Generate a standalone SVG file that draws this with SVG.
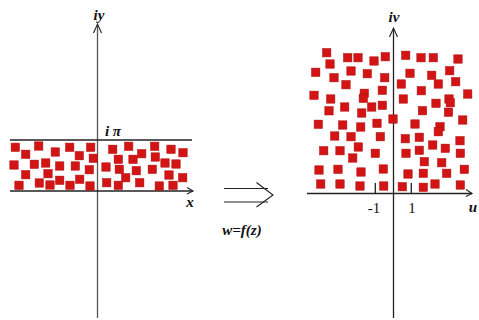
<svg xmlns="http://www.w3.org/2000/svg" xmlns:xlink="http://www.w3.org/1999/xlink" width="479" height="320" viewBox="0 0 479 320">
<style>
.bg{fill:#ffffff}
.ax{stroke:#222;stroke-width:1.3;fill:none}
.axg{stroke:#555;stroke-width:1.3;fill:none}
.ah{stroke:#222;stroke-width:1.1;fill:none}
.lbl{font-family:"Liberation Serif","DejaVu Serif",serif;font-style:italic;font-weight:bold;font-size:15px;fill:#111}
.num{font-family:"Liberation Serif","DejaVu Serif",serif;font-size:15px;fill:#111}
.sq{fill:#d21414;stroke:#b00c0c;stroke-width:0.5}
</style>
<defs>
<rect id="s" class="sq" x="-4.2" y="-4.2" width="8.4" height="8.4"/>
</defs>
<rect class="bg" x="0" y="0" width="479" height="320"/>

<g id="z-plane">
  <line class="axg" x1="97.5" y1="25" x2="97.5" y2="318"/>
  <polyline class="ah" points="93.5,33 97.5,24 101.5,33"/>
  <line class="ax" x1="10" y1="140" x2="192" y2="140"/>
  <line class="ax" x1="10" y1="191" x2="193" y2="191"/>
  <polyline class="ah" points="187,187.5 193,191 187,194"/>
  <text class="lbl" x="99" y="20" text-anchor="middle">iy</text>
  <text class="lbl" x="113" y="136" text-anchor="middle">i π</text>
  <text class="lbl" x="190" y="207" text-anchor="middle">x</text>
  <g id="z-points">
    <use xlink:href="#s" x="15.3" y="147.3"/><use xlink:href="#s" x="25.7" y="154.3"/><use xlink:href="#s" x="38.7" y="146"/><use xlink:href="#s" x="55.3" y="152"/>
    <use xlink:href="#s" x="69.7" y="147.3"/><use xlink:href="#s" x="90.7" y="147.3"/><use xlink:href="#s" x="79.3" y="155.7"/><use xlink:href="#s" x="93.3" y="158.3"/>
    <use xlink:href="#s" x="14" y="165"/><use xlink:href="#s" x="34.3" y="164.3"/><use xlink:href="#s" x="45.7" y="163"/><use xlink:href="#s" x="59.7" y="166"/>
    <use xlink:href="#s" x="75.3" y="166"/><use xlink:href="#s" x="89.3" y="169.7"/><use xlink:href="#s" x="25.7" y="174.7"/><use xlink:href="#s" x="48" y="173.7"/>
    <use xlink:href="#s" x="59.7" y="180.3"/><use xlink:href="#s" x="79.7" y="179.3"/><use xlink:href="#s" x="19" y="185.3"/><use xlink:href="#s" x="39.3" y="183"/>
    <use xlink:href="#s" x="50" y="185"/><use xlink:href="#s" x="70" y="185.3"/><use xlink:href="#s" x="90" y="186"/>
    <use xlink:href="#s" x="112.7" y="149.3"/><use xlink:href="#s" x="128.7" y="146.3"/><use xlink:href="#s" x="141.7" y="153.7"/><use xlink:href="#s" x="154.7" y="146.3"/>
    <use xlink:href="#s" x="171" y="149.3"/><use xlink:href="#s" x="183" y="152.7"/><use xlink:href="#s" x="118.3" y="159.3"/><use xlink:href="#s" x="133" y="159.3"/>
    <use xlink:href="#s" x="155.3" y="157"/><use xlink:href="#s" x="165" y="163"/><use xlink:href="#s" x="176" y="164"/><use xlink:href="#s" x="106" y="167"/>
    <use xlink:href="#s" x="119.3" y="169.3"/><use xlink:href="#s" x="136.3" y="170.7"/><use xlink:href="#s" x="152.3" y="169.3"/><use xlink:href="#s" x="169" y="175"/>
    <use xlink:href="#s" x="182.7" y="177.7"/><use xlink:href="#s" x="125.7" y="177.7"/><use xlink:href="#s" x="106.7" y="182.7"/><use xlink:href="#s" x="118.3" y="185.3"/>
    <use xlink:href="#s" x="139.7" y="182.7"/><use xlink:href="#s" x="159.3" y="186"/><use xlink:href="#s" x="173" y="185.3"/>
  </g>
</g>

<g id="mapping">
  <line class="ah" x1="224" y1="188.5" x2="268" y2="188.5"/>
  <line class="ah" x1="224" y1="202" x2="268" y2="202"/>
  <polyline class="ah" points="256.5,182.5 273,195 256.5,207"/>
  <text class="lbl" x="242" y="235" text-anchor="middle" font-size="12">w=f(z)</text>
</g>

<g id="w-plane">
  <line class="ax" x1="393.5" y1="29" x2="393.5" y2="318"/>
  <polyline class="ah" points="389.5,37 393.5,28 397.5,37"/>
  <line class="ax" x1="307" y1="193.5" x2="472" y2="193.5"/>
  <polyline class="ah" points="466,189.5 472,193.5 466,196.5"/>
  <line class="ax" x1="375.3" y1="183" x2="375.3" y2="193.5"/>
  <line class="ax" x1="411.3" y1="183" x2="411.3" y2="193.5"/>
  <text class="lbl" x="394" y="22" text-anchor="middle">iv</text>
  <text class="num" x="374" y="213" text-anchor="middle">-1</text>
  <text class="num" x="412" y="213" text-anchor="middle">1</text>
  <text class="lbl" x="473" y="212" text-anchor="middle">u</text>
  <g id="w-points">
    <use xlink:href="#s" x="326.7" y="52.7"/><use xlink:href="#s" x="347.7" y="57.7"/><use xlink:href="#s" x="358" y="57.7"/><use xlink:href="#s" x="385.3" y="56.7"/>
    <use xlink:href="#s" x="374" y="61"/><use xlink:href="#s" x="330" y="64"/><use xlink:href="#s" x="315.7" y="72.3"/><use xlink:href="#s" x="351" y="71"/>
    <use xlink:href="#s" x="367.3" y="73.7"/><use xlink:href="#s" x="334" y="77.7"/><use xlink:href="#s" x="384.7" y="77.7"/><use xlink:href="#s" x="346" y="84.7"/>
    <use xlink:href="#s" x="382.3" y="90.3"/><use xlink:href="#s" x="314" y="95.3"/><use xlink:href="#s" x="330.7" y="99"/><use xlink:href="#s" x="364.3" y="93.3"/>
    <use xlink:href="#s" x="363.3" y="98.3"/><use xlink:href="#s" x="344.7" y="107"/><use xlink:href="#s" x="382.3" y="105.3"/><use xlink:href="#s" x="371.7" y="107"/>
    <use xlink:href="#s" x="329" y="110.8"/><use xlink:href="#s" x="361.7" y="113"/>
    <use xlink:href="#s" x="405.7" y="55.3"/><use xlink:href="#s" x="421" y="57.7"/><use xlink:href="#s" x="433.3" y="57.7"/><use xlink:href="#s" x="458" y="59"/>
    <use xlink:href="#s" x="449.7" y="70.7"/><use xlink:href="#s" x="410" y="73.3"/><use xlink:href="#s" x="431.7" y="75.3"/><use xlink:href="#s" x="401.3" y="84"/>
    <use xlink:href="#s" x="438.3" y="84"/><use xlink:href="#s" x="455.7" y="81.7"/><use xlink:href="#s" x="421.3" y="90.7"/><use xlink:href="#s" x="467.7" y="94"/>
    <use xlink:href="#s" x="403.3" y="99"/><use xlink:href="#s" x="449" y="99"/><use xlink:href="#s" x="436" y="103.3"/><use xlink:href="#s" x="450.3" y="102.7"/>
    <use xlink:href="#s" x="422.5" y="110.7"/><use xlink:href="#s" x="448.5" y="112.2"/>
    <use xlink:href="#s" x="393" y="119"/><use xlink:href="#s" x="318.3" y="124.3"/><use xlink:href="#s" x="342.7" y="125"/><use xlink:href="#s" x="360.7" y="127"/>
    <use xlink:href="#s" x="377" y="123.3"/><use xlink:href="#s" x="334.7" y="136"/><use xlink:href="#s" x="351" y="136.7"/><use xlink:href="#s" x="380.3" y="136.7"/>
    <use xlink:href="#s" x="323.7" y="150.7"/><use xlink:href="#s" x="340" y="150.7"/><use xlink:href="#s" x="358.3" y="147"/><use xlink:href="#s" x="352.7" y="158"/>
    <use xlink:href="#s" x="375.3" y="153.3"/><use xlink:href="#s" x="319" y="170"/><use xlink:href="#s" x="338" y="169.3"/><use xlink:href="#s" x="361" y="172"/>
    <use xlink:href="#s" x="383.3" y="169"/><use xlink:href="#s" x="320.7" y="184"/><use xlink:href="#s" x="340" y="184"/><use xlink:href="#s" x="360" y="186"/>
    <use xlink:href="#s" x="383.7" y="186"/>
    <use xlink:href="#s" x="462.7" y="120"/><use xlink:href="#s" x="415" y="124"/><use xlink:href="#s" x="440" y="126.7"/><use xlink:href="#s" x="438.3" y="131.7"/>
    <use xlink:href="#s" x="405.3" y="138.7"/><use xlink:href="#s" x="419.3" y="137.3"/><use xlink:href="#s" x="432.7" y="145"/><use xlink:href="#s" x="445.3" y="148.3"/>
    <use xlink:href="#s" x="460" y="140.7"/><use xlink:href="#s" x="406" y="153.3"/><use xlink:href="#s" x="419.3" y="150.3"/><use xlink:href="#s" x="460.3" y="153.3"/>
    <use xlink:href="#s" x="424.3" y="161.7"/><use xlink:href="#s" x="441.7" y="162.7"/><use xlink:href="#s" x="464.3" y="169.3"/><use xlink:href="#s" x="408" y="174"/>
    <use xlink:href="#s" x="423.3" y="173.3"/><use xlink:href="#s" x="446.7" y="173.3"/><use xlink:href="#s" x="402.3" y="186.7"/><use xlink:href="#s" x="423.3" y="187.3"/>
    <use xlink:href="#s" x="435" y="184"/><use xlink:href="#s" x="460.3" y="185"/>
  </g>
</g>
</svg>
